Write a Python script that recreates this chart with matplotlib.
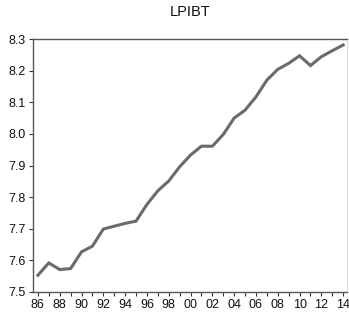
import matplotlib
matplotlib.use("Agg")
import matplotlib.pyplot as plt
from matplotlib.ticker import MultipleLocator, FixedLocator

years = list(range(1986, 2015))
lpibt = [7.553, 7.592, 7.571, 7.574, 7.627, 7.645, 7.699, 7.708, 7.717, 7.724,
         7.777, 7.820, 7.851, 7.896, 7.933, 7.961, 7.961, 7.998, 8.050, 8.075,
         8.117, 8.170, 8.204, 8.223, 8.247, 8.216, 8.244, 8.263, 8.281]
year_labels = [f"{y % 100:02d}" for y in years[::2]]

plt.rcParams['font.family'] = ['Liberation Sans Narrow', 'Liberation Sans', 'DejaVu Sans']

fig = plt.figure(figsize=(3.49, 3.13), dpi=100)
ax = fig.add_axes([33/349, 1 - 292/313, (347-33)/349, (292-39)/313])

ax.plot(years, lpibt, color='#6a6a6a', linewidth=2.2, solid_joinstyle='miter')

ax.set_xlim(1985.55, 2014.35)
ax.set_ylim(7.5, 8.3)
ax.xaxis.set_major_locator(FixedLocator(years[::2]))
ax.set_xticklabels(year_labels)
ax.xaxis.set_minor_locator(MultipleLocator(1))
ax.yaxis.set_major_locator(MultipleLocator(0.1))
ax.yaxis.set_major_formatter(matplotlib.ticker.FormatStrFormatter('%.1f'))

ax.tick_params(axis='both', which='both', direction='out', length=3, width=0.8,
               color='#333333', labelsize=9, labelcolor='#111111', pad=2)
ax.tick_params(axis='x', which='minor', length=3)

for side in ['left', 'bottom', 'top']:
    ax.spines[side].set_color('#555555')
    ax.spines[side].set_linewidth(1.0)
ax.spines['right'].set_color('#dddddd')
ax.spines['right'].set_linewidth(0.8)

fig.text(190/349, 1 - 12/313, 'LPIBT', ha='center', va='center', fontsize=10.5,
         color='#111111')

fig.savefig('out.png', dpi=100)
